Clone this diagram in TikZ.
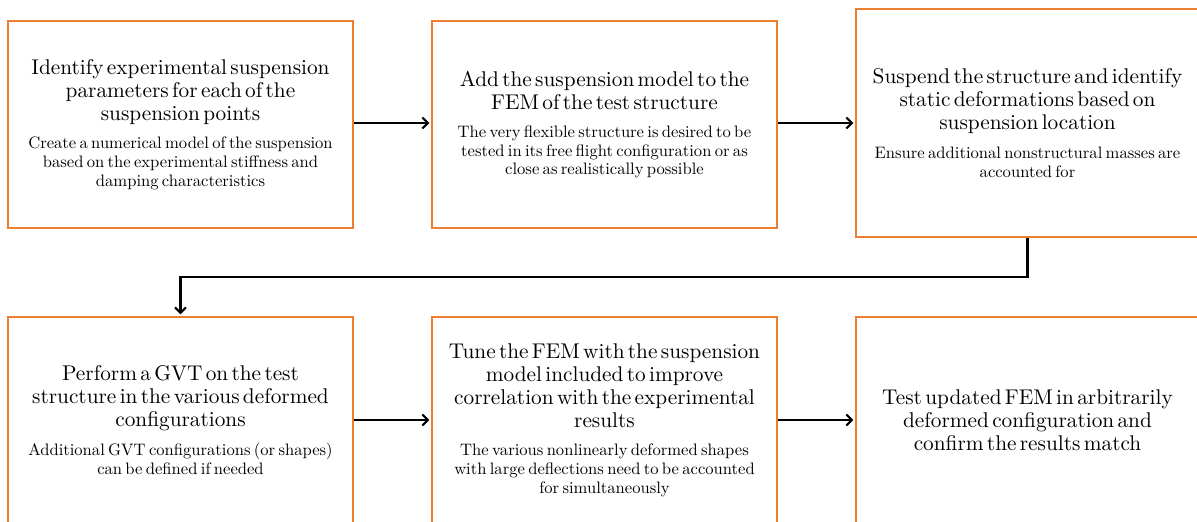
\documentclass[tikz,border=0pt]{standalone}
\usepackage{fontspec}
\setmainfont{lmroman10-regular.otf}
\usepackage{xcolor}
\usetikzlibrary{arrows.meta,positioning,calc}
\definecolor{boxorange}{HTML}{ED7D31}
\newcommand{\steptitle}[1]{{\fontsize{21.3}{23}\selectfont #1\par}}
\newcommand{\stepnote}[1]{\vspace{10pt}{\fontsize{16.6}{18.6}\selectfont #1\par}}
\begin{document}
\begin{tikzpicture}[x=1pt,y=-1pt,
  box/.style={draw=boxorange,line width=1.5pt,fill=white,align=center,inner sep=0pt,
    minimum width=345pt,minimum height=207pt,text width=340pt},
  arr/.style={-{Straight Barb[length=5.5pt,width=11pt,line width=2pt]},line width=2.6pt,shorten >=2pt}]
\useasboundingbox (0,0) rectangle (1197,522);
\node[box] (ident) at (180.5,124.5)
  {\steptitle{Identify experimental suspension\\parameters for each of the\\suspension points}
   \stepnote{Create a numerical model of the suspension\\based on the experimental stiffness and\\damping characteristics}};
\node[box] (addmod) at (604.5,124.5)
  {\steptitle{Add the suspension model to the\\FEM of the test structure}
   \stepnote{The very flexible structure is desired to be\\tested in its free flight configuration or as\\close as realistically possible}};
\node[box,minimum width=343pt,minimum height=228pt] (suspend) at (1027.5,123)
  {\steptitle{Suspend the structure and identify\\static deformations based on\\suspension location}
   \stepnote{Ensure additional nonstructural masses are\\accounted for}};
\node[box,minimum height=206pt] (gvt) at (180.5,420)
  {\steptitle{Perform a GVT on the test\\structure in the various deformed\\configurations}
   \stepnote{Additional GVT configurations (or shapes)\\can be defined if needed}};
\node[box,minimum height=206pt] (tune) at (604.5,420)
  {\steptitle{Tune the FEM with the suspension\\model included to improve\\correlation with the experimental\\results}
   \stepnote{The various nonlinearly deformed shapes\\with large deflections need to be accounted\\for simultaneously}};
\node[box,minimum width=343pt,minimum height=206pt] (check) at (1027.5,420)
  {\steptitle{Test updated FEM in arbitrarily\\deformed configuration and\\confirm the results match}};
\coordinate (turn) at (0,277);
\draw[arr] (ident.east|-0,123) -- (addmod.west|-0,123);
\draw[arr] (addmod.east|-0,123) -- (suspend.west|-0,123);
\draw[arr] (suspend.south) -- (suspend.south|-turn) -- (gvt.north|-turn) -- (gvt.north);
\draw[arr] (gvt) -- (tune);
\draw[arr] (tune) -- (check);
\end{tikzpicture}
\end{document}
